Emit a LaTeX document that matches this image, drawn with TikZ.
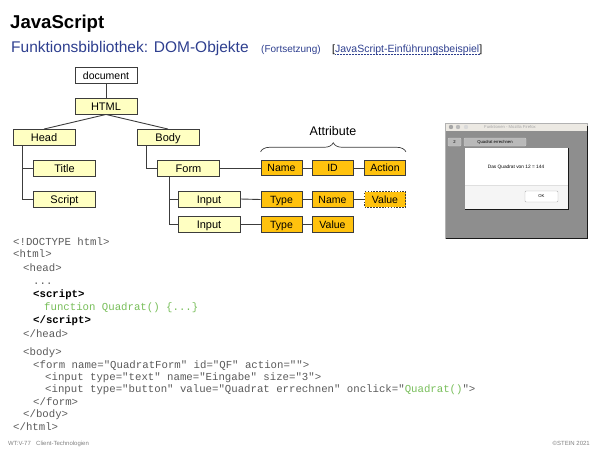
\documentclass[tikz,border=0pt]{standalone}
\usepackage{fontspec}
\setmainfont{Liberation Sans}
\newfontfamily\codefont{Liberation Mono}
\usetikzlibrary{decorations.pathreplacing}

\definecolor{paleyellow}{HTML}{FFFFC2}
\definecolor{attrorange}{HTML}{FFC20E}
\definecolor{boxline}{HTML}{3C3C3C}
\definecolor{titleblue}{HTML}{2E3F8F}
\definecolor{codegrey}{HTML}{5A5A5A}
\definecolor{codegreen}{HTML}{78BE5A}
\definecolor{footgrey}{HTML}{808080}
\definecolor{winbar}{HTML}{ECE9E3}
\definecolor{winbg}{HTML}{8E8E8E}

\tikzset{
  ybox/.style={draw=boxline, fill=paleyellow, line width=0.9pt, minimum width=62pt,
    minimum height=16pt, inner sep=0pt, text height=8pt, text depth=0pt,
    font=\fontsize{11}{11}\selectfont},
  obox/.style={draw=boxline, fill=attrorange, line width=0.9pt, minimum width=41pt,
    minimum height=15.5pt, inner sep=0pt, text height=7.6pt, text depth=0pt,
    font=\fontsize{10.5}{10.5}\selectfont},
  link/.style={draw=boxline, line width=0.9pt},
  code/.style={anchor=base west, inner sep=0pt, text=codegrey,
    font=\codefont\fontsize{10.7}{10.7}\selectfont},
  codebold/.style={code, text=black, font=\codefont\bfseries\fontsize{10.7}{10.7}\selectfont},
  tiny/.style={inner sep=0pt, font=\fontsize{4.2}{4.2}\selectfont}
}

\begin{document}
\begin{tikzpicture}[x=1pt, y=-1pt]
\useasboundingbox (0,0) rectangle (600,450);

% heading
\node[anchor=base west, inner sep=0pt, font=\bfseries\fontsize{18.6}{18.6}\selectfont] (head1) at (10,28) {JavaScript};
\node[anchor=base west, inner sep=0pt, text=titleblue, font=\fontsize{15.5}{15.5}\selectfont] (head2) at (11,52.5) {Funktionsbibliothek: DOM-Objekte};
\node[anchor=base west, inner sep=0pt, text=titleblue, font=\fontsize{10}{10}\selectfont] (cont) at (261,52) {(Fortsetzung)};
\node[anchor=base west, inner sep=0pt, font=\fontsize{10.5}{10.5}\selectfont] (lnk) at (332,52)
  {[\textcolor{titleblue}{JavaScript-Einführungsbeispiel}]};
\draw[titleblue, densely dotted, line width=0.5pt] ([xshift=3pt,yshift=-2pt]lnk.base west) -- ([xshift=-3pt,yshift=-2pt]lnk.base east);

% DOM tree
\node[ybox, fill=white, font=\fontsize{10.5}{10.5}\selectfont] (doc) at (106,75) {document};
\node[ybox] (html) at (106,106) {HTML};
\node[ybox] (head) at (44,137.5) {Head};
\node[ybox] (body) at (168,137.5) {Body};
\node[ybox] (title) at (64.5,168) {Title};
\node[ybox] (script) at (64.5,199) {Script};
\node[ybox] (form) at (188.5,168) {Form};
\node[ybox] (inA) at (209,199) {Input};
\node[ybox] (inB) at (209,224.5) {Input};

% attribute boxes
\node[obox] (fname) at (281.5,168) {Name};
\node[obox] (fid) at (332.5,168) {ID};
\node[obox] (faction) at (385,168) {Action};
\node[obox] (atype) at (281.5,199.5) {Type};
\node[obox] (aname) at (332.5,199.5) {Name};
\node[obox, dash pattern=on 1.6pt off 1.3pt] (avalue) at (385,199.5) {Value};
\node[obox] (btype) at (281.5,224.5) {Type};
\node[obox] (bvalue) at (332.5,224.5) {Value};

% tree connectors
\draw[link] (doc) -- (html);
\draw[link] (html.south) -- (head.north);
\draw[link] (html.south) -- (body.north);
\draw[link] ([xshift=10pt]head.south west) |- (title.west);
\draw[link] ([xshift=10pt]head.south west) |- (script.west);
\draw[link] ([xshift=10pt]body.south west) |- (form.west);
\draw[link] ([xshift=12pt]form.south west) |- (inA.west);
\draw[link] ([xshift=12pt]form.south west) |- (inB.west);
\draw[link] (form.east) -- (fname.west);
\draw[link] (fname.east) -- (fid.west);
\draw[link] (fid.east) -- (faction.west);
\draw[link] (inA.east) -- (atype.west);
\draw[link] (atype.east) -- (aname.west);
\draw[link] (aname.east) -- (avalue.west);
\draw[link] (inB.east) -- (btype.west);
\draw[link] (btype.east) -- (bvalue.west);

% brace over the attributes
\coordinate (bl) at ([yshift=8pt]fname.north west);
\coordinate (br) at ([yshift=8pt]faction.north east);
\draw[boxline, line width=0.7pt, decorate, decoration={brace, amplitude=9pt}] (bl) -- (br);
\node[font=\fontsize{12.5}{12.5}\selectfont, inner sep=0pt] (attr) at (333,131) {Attribute};

% browser window with the alert dialog
\fill[winbar] (445,123) rectangle (587,131);
\fill[winbg] (445,131) rectangle (587,238);
\draw[gray!60, line width=0.5pt] (445,123) rectangle (587,238);
\draw[gray!20!black, line width=1pt] (587.5,126) -- (587.5,238.5) -- (446,238.5);
\fill[gray!70] (451,127) circle (2.2pt);
\fill[gray!55] (458,127) circle (2.2pt);
\fill[gray!30] (466,127) circle (2.2pt);
\node[tiny, text=gray!70] (wtitle) at (510,127) {Funktionen - Mozilla Firefox};
\node[draw=gray!40, fill=gray!55, rounded corners=1pt, minimum width=13pt, minimum height=8pt, tiny] (field) at (454.5,142) {2};
\node[draw=gray!40, fill=gray!55, rounded corners=1pt, minimum width=62pt, minimum height=8pt, tiny] (btn) at (495,142) {Quadrat errechnen};
\fill[white] (465,148) rectangle (568,185);
\fill[gray!8] (465,185) rectangle (568,209);
\draw[gray!25, line width=0.4pt] (465,185) -- (568,185);
\draw[gray!20!black, line width=1pt] (568.5,148) -- (568.5,209.5) -- (465,209.5);
\node[tiny, font=\fontsize{4.8}{4.8}\selectfont] (msg) at (516,167) {Das Quadrat von 12 = 144};
\node[draw=gray!60, fill=white, rounded corners=1pt, minimum width=33pt, minimum height=11pt, tiny] (okbtn) at (541.5,196.5) {OK};

% source code
\node[code] (c1) at (13,245) {<!DOCTYPE html>};
\node[code] (c2) at (13,257.5) {<html>};
\node[code] (c3) at (23,271) {<head>};
\node[code] (c4) at (33,284) {...};
\node[codebold] (c5) at (33,297) {<script>};
\node[code, text=codegreen] (c6) at (44,310) {function Quadrat() \{...\}};
\node[codebold] (c7) at (33,323.5) {</script>};
\node[code] (c8) at (23,337) {</head>};
\node[code] (c9) at (23,355) {<body>};
\node[code] (c10) at (33,368) {<form name="QuadratForm" id="QF" action="">};
\node[code] (c11) at (45,380) {<input type="text" name="Eingabe" size="3">};
\node[code] (c12) at (45,392.5) {<input type="button" value="Quadrat errechnen" onclick="\textcolor{codegreen}{Quadrat()}">};
\node[code] (c13) at (33,405) {</form>};
\node[code] (c14) at (23,417.5) {</body>};
\node[code] (c15) at (13,430) {</html>};

% footer
\node[anchor=base west, inner sep=0pt, text=footgrey, font=\fontsize{6}{6}\selectfont] (f1) at (8,445) {WT:V-77};
\node[anchor=base west, inner sep=0pt, text=footgrey, font=\fontsize{6}{6}\selectfont] (f2) at (36,445) {Client-Technologien};
\node[anchor=base east, inner sep=0pt, text=footgrey, font=\fontsize{6}{6}\selectfont] (f3) at (590,445) {©STEIN 2021};
\end{tikzpicture}
\end{document}
